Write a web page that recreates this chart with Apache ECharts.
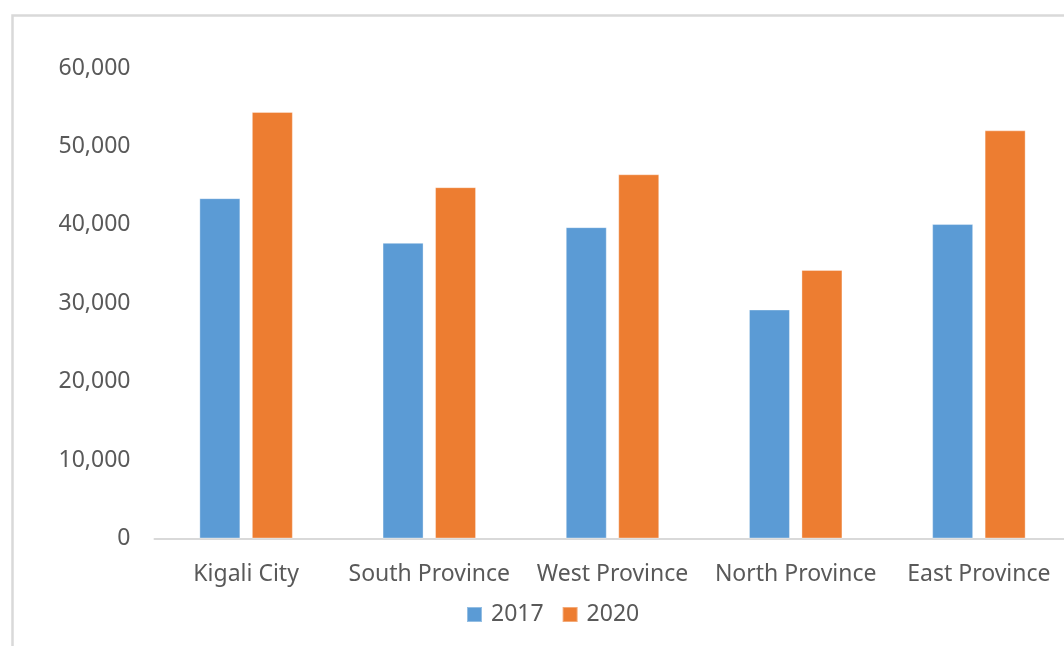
<!DOCTYPE html>
<html>
<head>
<meta charset="utf-8">
<title>Population by province</title>
<script src="https://cdn.jsdelivr.net/npm/echarts@6/dist/echarts.min.js"></script>
<style>
  html, body { margin: 0; padding: 0; background: #fff; overflow: hidden; }
  #chart { width: 1064px; height: 646px; }
</style>
</head>
<body>
<div id="chart"></div>
<script>
// 数据
const categories = ['Kigali City', 'South Province', 'West Province', 'North Province', 'East Province']
const values2017 = [43400, 37700, 39700, 29200, 40100]
const values2020 = [54400, 44800, 46450, 34250, 52050]
const seriesNames = ['2017', '2020']

const textColor = '#595959'
const fontFamily = '"Noto Sans", "Open Sans", sans-serif'

const chart = echarts.init(document.getElementById('chart'))

const option = {
  backgroundColor: '#fff',
  animation: false,
  color: ['#5B9BD5', '#ED7D31'],
  textStyle: { fontFamily: fontFamily },
  // 外框
  graphic: [{
    type: 'rect',
    shape: { x: 12.5, y: 15.5, width: 1200, height: 800 },
    style: { fill: 'none', stroke: '#d9d9d9', lineWidth: 2.5 },
    silent: true
  }],
  grid: {
    left: 154.5,
    top: 68,
    width: 916,
    height: 470.5,
    containLabel: false,
    outerBoundsMode: 'none'
  },
  legend: {
    data: seriesNames,
    left: 461,
    top: 598,
    icon: 'rect',
    itemWidth: 15,
    itemHeight: 15,
    itemGap: 18,
    textStyle: {
      color: textColor,
      fontSize: 23,
      padding: [0, 0, 0, 4]
    }
  },
  xAxis: {
    type: 'category',
    data: categories,
    axisLine: {
      lineStyle: { color: '#d9d9d9', width: 2 }
    },
    axisTick: { show: false },
    axisLabel: {
      color: textColor,
      fontSize: 23,
      margin: 24,
      interval: 0
    }
  },
  yAxis: {
    type: 'value',
    min: 0,
    max: 60000,
    interval: 10000,
    axisLine: { show: false },
    axisTick: { show: false },
    splitLine: { show: false },
    axisLabel: {
      color: textColor,
      fontSize: 23,
      margin: 24,
      formatter: (v) => v.toLocaleString('en-US')
    }
  },
  series: [
    {
      name: seriesNames[0],
      type: 'bar',
      data: values2017,
      barWidth: 41,
      barGap: '28%',
      itemStyle: { borderColor: 'rgba(255,255,255,0.35)', borderWidth: 1 }
    },
    {
      name: seriesNames[1],
      type: 'bar',
      data: values2020,
      barWidth: 41,
      barGap: '28%',
      itemStyle: { borderColor: 'rgba(255,255,255,0.35)', borderWidth: 1 }
    }
  ]
}

chart.setOption(option)
window.onresize = () => {
  chart.resize()
}
</script>
</body>
</html>
